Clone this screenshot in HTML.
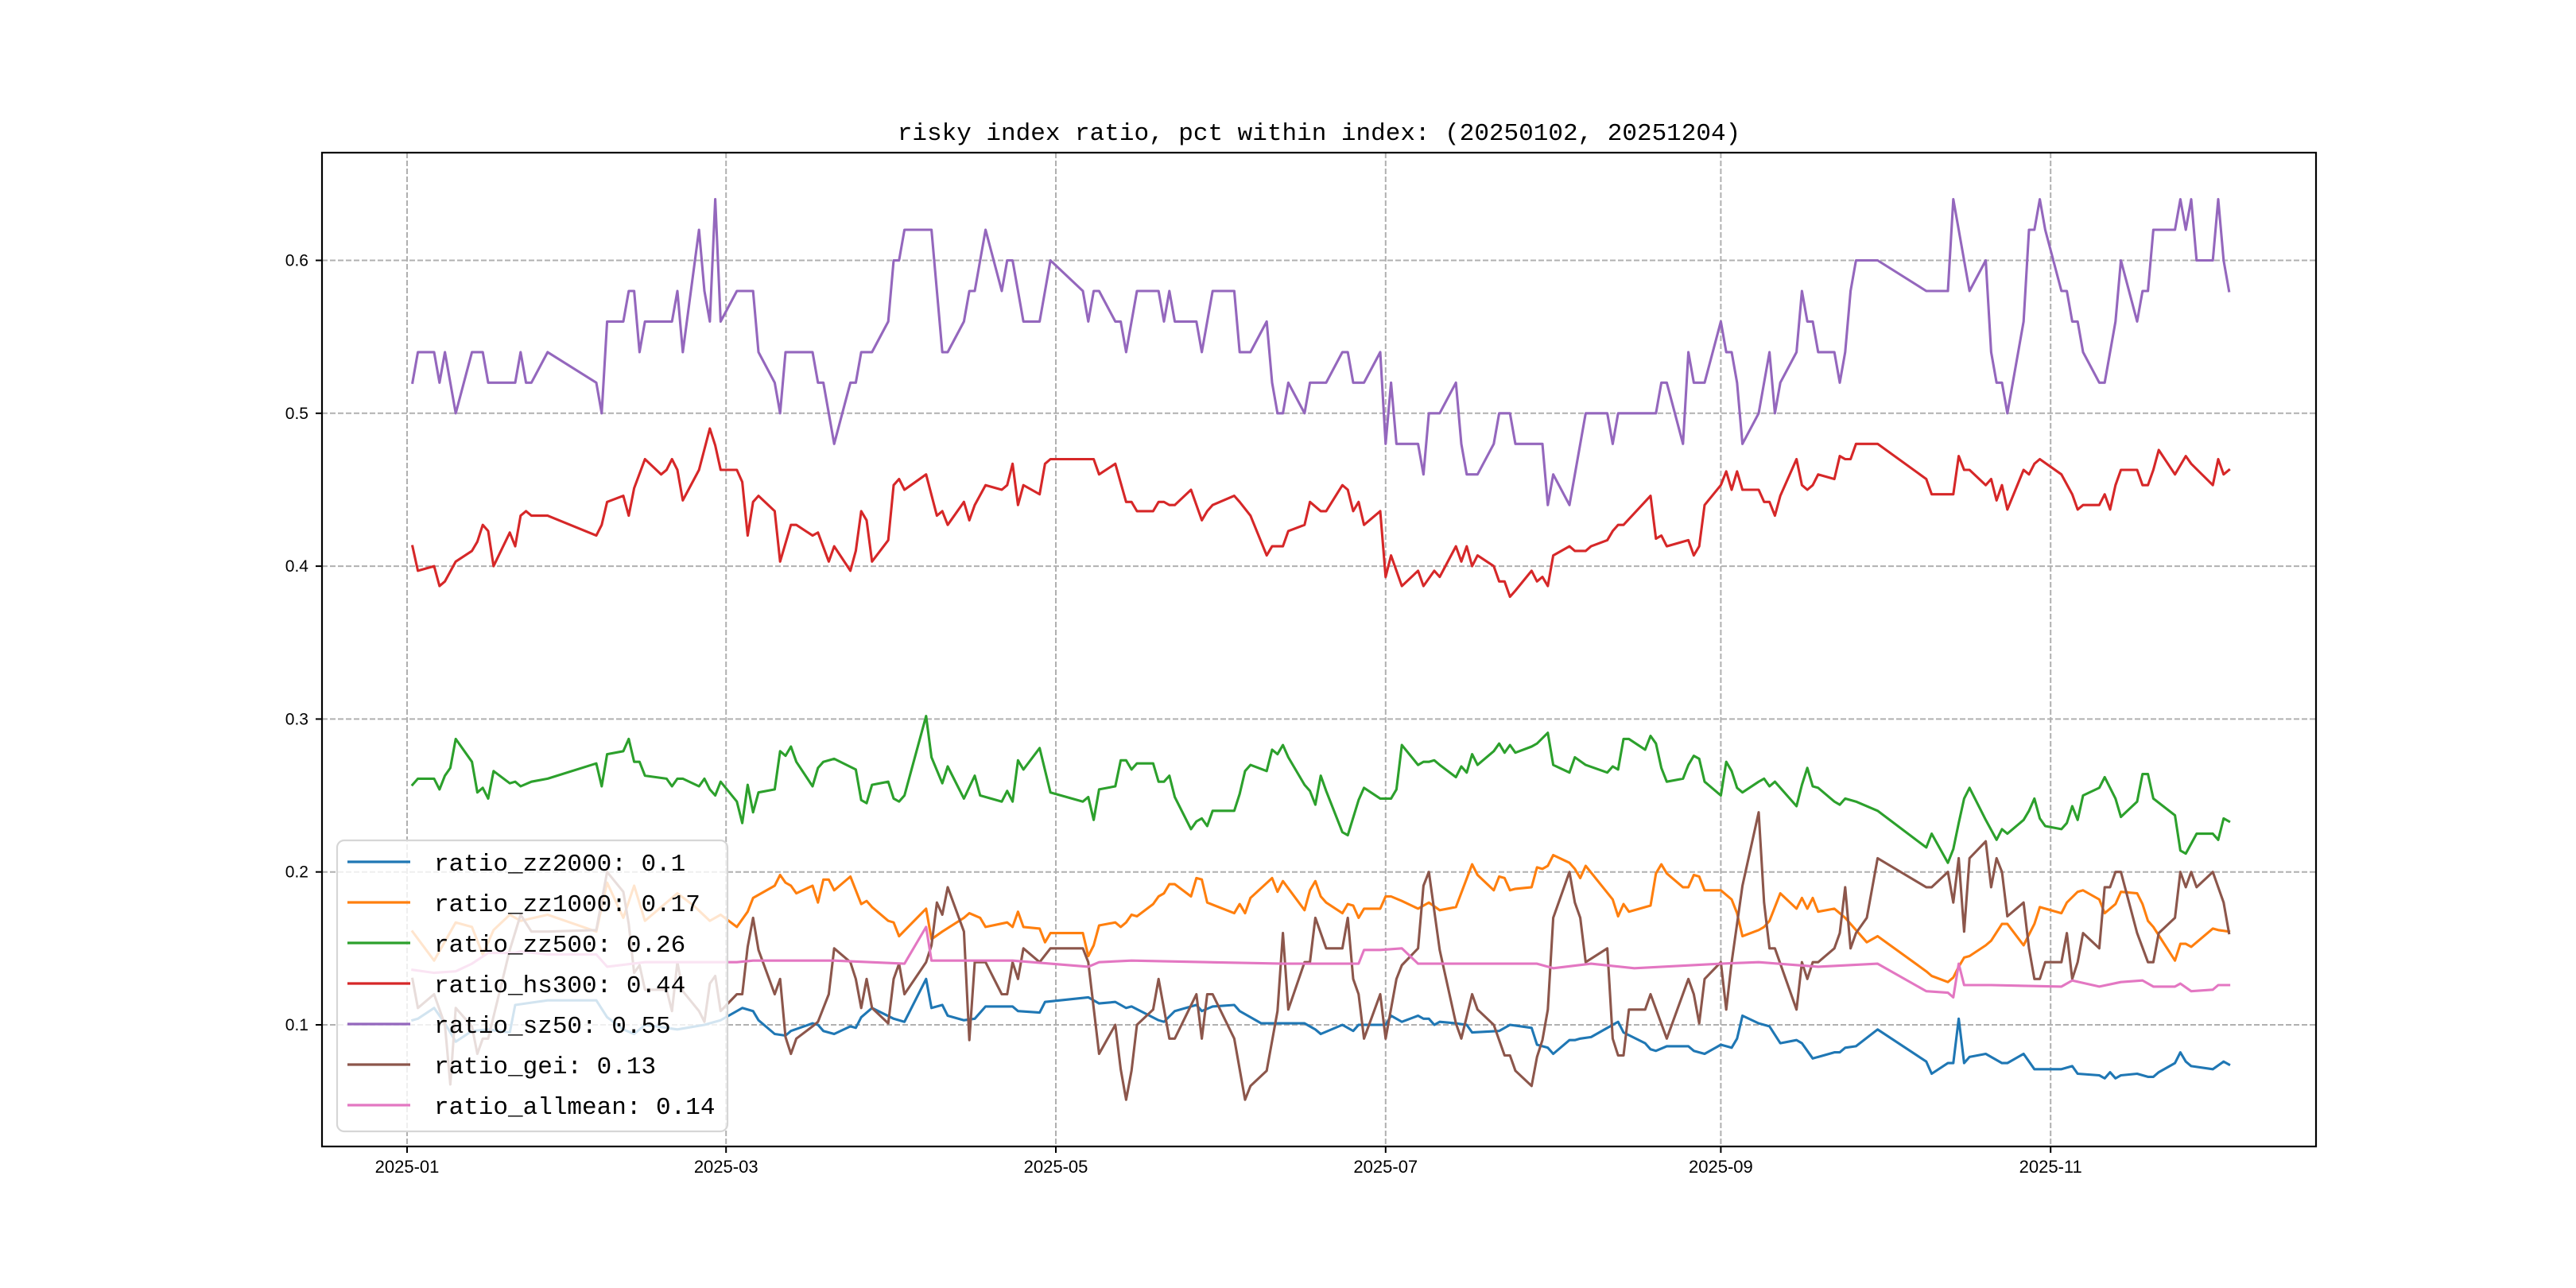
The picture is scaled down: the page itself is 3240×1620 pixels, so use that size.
<!DOCTYPE html>
<html><head><meta charset="utf-8"><title>risky index ratio</title>
<style>
html,body{margin:0;padding:0;background:#fff;}
svg{display:block;}
</style></head>
<body>
<svg id="chart" xmlns="http://www.w3.org/2000/svg" width="3240" height="1620" viewBox="0 0 3240 1620"></svg>
<script>
// ---- data: days since 2025-01-01 per series, and values ----
const zz2000Days=[1,2,5,7,9,12,15,19,20,26,35,37,40,42,44,50,55,58,61,62,64,65,68,70,71,75,76,77,79,82,83,84,86,90,92,96,97,99,100,103,105,107,112,113,117,118,126,128,131,133,134,139,140,142,146,147,149,153,154,158,162,166,168,169,173,175,176,181,182,184,187,188,189,190,191,194,196,197,202,204,208,209,211,212,215,216,217,219,224,225,229,230,231,233,237,238,240,243,245,246,247,250,252,254,257,258,260,264,265,266,268,272,281,282,285,286,287,288,289,292,295,296,299,301,306,308,309,313,314,315,316,317,320,322,323,324,327,328,329,330,334,336,337];
const zz2000Vals=[.103,.104,.111,.101,.089,.096,.097,.095,.113,.116,.116,.105,.097,.094,.100,.097,.100,.103,.109,.111,.109,.103,.094,.093,.096,.101,.100,.096,.094,.099,.098,.105,.111,.104,.102,.130,.111,.113,.106,.103,.104,.112,.112,.109,.108,.115,.118,.114,.115,.111,.112,.103,.102,.109,.113,.109,.112,.113,.109,.101,.101,.101,.097,.094,.100,.096,.100,.100,.106,.102,.106,.104,.104,.100,.102,.101,.100,.095,.096,.100,.098,.087,.085,.081,.090,.090,.091,.092,.102,.095,.088,.084,.083,.086,.086,.083,.081,.087,.085,.091,.106,.101,.099,.088,.090,.088,.078,.082,.082,.085,.086,.097,.076,.068,.075,.075,.104,.075,.079,.081,.075,.075,.081,.071,.071,.073,.068,.067,.065,.069,.065,.067,.068,.066,.066,.069,.075,.082,.076,.073,.071,.076,.074];

const zz1000Days=[1,5,9,12,14,16,19,21,26,35,37,40,42,44,50,53,56,58,61,63,64,68,69,70,71,72,75,76,77,78,79,82,84,85,86,89,90,91,96,97,99,103,104,106,107,111,112,113,114,117,118,119,125,126,127,128,131,132,133,134,135,138,139,140,141,142,145,146,147,148,153,154,155,156,160,161,162,166,167,168,169,170,173,174,175,176,177,180,181,182,184,187,189,191,194,197,198,201,202,203,204,205,208,209,210,211,212,215,216,217,218,223,224,225,226,230,231,232,233,236,237,238,239,240,243,245,246,247,250,251,252,254,257,258,259,260,261,264,266,270,272,281,282,285,286,287,288,289,292,293,295,296,299,301,302,306,307,309,310,313,314,316,317,320,321,322,323,327,328,329,330,334,335,337];
const zz1000Vals=[.161,.142,.167,.164,.146,.162,.172,.168,.172,.161,.193,.170,.191,.168,.186,.178,.168,.172,.164,.174,.183,.191,.198,.193,.191,.186,.191,.180,.195,.195,.188,.197,.179,.181,.177,.168,.167,.158,.176,.156,.161,.170,.173,.170,.164,.167,.164,.174,.164,.163,.154,.160,.160,.145,.152,.165,.167,.164,.167,.172,.171,.179,.184,.186,.192,.192,.184,.196,.195,.180,.173,.179,.173,.183,.196,.187,.194,.175,.188,.194,.184,.180,.173,.179,.178,.170,.176,.176,.184,.184,.181,.176,.180,.175,.177,.205,.198,.188,.197,.196,.188,.189,.190,.203,.202,.204,.211,.206,.202,.196,.204,.182,.171,.179,.174,.178,.199,.205,.199,.190,.190,.198,.197,.188,.188,.182,.173,.158,.162,.164,.168,.186,.176,.183,.176,.183,.174,.176,.170,.154,.158,.135,.132,.128,.131,.138,.144,.145,.152,.155,.166,.166,.152,.166,.177,.173,.180,.187,.188,.182,.173,.179,.187,.186,.179,.168,.164,.142,.153,.153,.151,.163,.162,.161];

const zz500Days=[1,2,5,6,7,8,9,12,13,14,15,16,19,20,21,23,26,35,36,37,40,41,42,43,44,48,49,50,51,54,55,56,57,58,61,62,63,64,65,68,69,70,71,72,75,76,77,79,83,84,85,86,89,90,91,92,96,97,99,100,103,105,106,110,111,112,113,114,117,119,125,126,127,128,131,132,133,134,135,138,139,140,141,142,145,146,147,148,149,153,154,155,156,159,160,161,162,163,166,167,168,169,170,173,174,176,177,180,182,183,184,187,188,189,190,191,194,195,196,197,198,201,202,203,204,205,208,209,211,212,215,216,218,222,223,224,225,226,229,230,231,232,233,236,237,238,239,240,243,244,245,246,247,250,251,252,253,257,258,259,260,261,264,265,266,268,272,281,282,285,286,287,288,289,292,294,295,296,299,300,301,302,303,306,307,308,309,310,313,314,315,316,317,320,321,322,323,327,328,329,331,334,335,336,337];
const zz500Vals=[.257,.261,.261,.254,.263,.268,.287,.272,.252,.255,.248,.266,.258,.259,.256,.259,.261,.271,.256,.277,.279,.287,.272,.272,.263,.261,.256,.261,.261,.256,.261,.254,.250,.259,.246,.232,.257,.239,.252,.254,.279,.276,.282,.272,.256,.268,.272,.274,.267,.247,.245,.257,.259,.248,.246,.250,.302,.275,.258,.269,.248,.263,.250,.246,.253,.246,.273,.267,.281,.252,.246,.249,.234,.254,.256,.273,.273,.267,.271,.271,.259,.259,.263,.249,.228,.233,.235,.230,.240,.240,.251,.266,.270,.266,.280,.277,.283,.275,.257,.253,.244,.263,.253,.226,.224,.247,.255,.248,.248,.254,.283,.270,.272,.272,.273,.270,.262,.269,.265,.277,.270,.279,.284,.278,.283,.278,.282,.284,.291,.270,.265,.275,.270,.265,.269,.267,.287,.287,.280,.289,.284,.268,.259,.261,.270,.276,.274,.259,.250,.272,.266,.255,.252,.259,.261,.256,.259,.243,.257,.268,.256,.255,.246,.244,.248,.246,.240,.216,.225,.206,.215,.232,.248,.255,.234,.221,.228,.225,.234,.240,.248,.235,.230,.228,.232,.243,.234,.250,.255,.262,.255,.248,.236,.246,.264,.264,.248,.237,.214,.212,.225,.225,.221,.235,.233];

const hs300Days=[1,2,5,6,7,9,12,13,14,15,16,19,20,21,22,23,26,35,36,37,40,41,42,44,47,48,49,50,51,54,56,57,58,61,62,63,64,65,68,69,71,72,75,76,78,79,82,83,84,85,86,89,90,91,92,96,98,99,100,103,104,105,107,110,111,112,113,114,117,118,119,127,128,131,133,134,135,138,139,140,141,142,145,147,148,149,153,154,156,159,160,162,163,166,167,169,170,173,174,175,176,177,180,181,182,184,187,188,190,191,194,195,196,197,198,201,202,203,204,205,208,209,210,211,212,215,216,218,219,222,223,224,225,230,231,232,233,237,238,239,240,243,244,245,246,247,250,251,252,253,254,257,258,259,260,261,264,265,266,267,268,272,281,282,286,287,288,289,292,293,294,295,296,299,300,301,302,306,308,309,310,313,314,315,316,317,320,321,322,323,324,327,329,330,334,335,336,337];
const hs300Vals=[.413,.397,.400,.387,.390,.403,.410,.416,.427,.423,.400,.422,.413,.433,.436,.433,.433,.420,.427,.442,.446,.433,.451,.470,.460,.463,.470,.463,.443,.463,.490,.479,.463,.463,.455,.420,.442,.446,.436,.403,.427,.427,.420,.422,.403,.413,.397,.410,.436,.430,.403,.417,.453,.457,.450,.460,.433,.436,.427,.442,.430,.440,.453,.450,.453,.467,.440,.453,.447,.467,.470,.470,.460,.467,.442,.442,.436,.436,.442,.442,.440,.440,.450,.430,.436,.440,.446,.442,.433,.407,.413,.413,.423,.427,.442,.436,.436,.453,.450,.436,.442,.427,.436,.393,.407,.387,.397,.387,.397,.393,.413,.403,.413,.400,.407,.400,.390,.390,.380,.384,.397,.390,.393,.387,.407,.413,.410,.410,.413,.417,.423,.427,.427,.446,.418,.420,.413,.417,.407,.413,.440,.453,.462,.450,.462,.450,.450,.442,.442,.433,.446,.470,.453,.450,.453,.460,.457,.472,.470,.470,.480,.480,.457,.447,.447,.472,.463,.463,.453,.457,.443,.453,.437,.463,.460,.467,.470,.460,.447,.437,.440,.440,.447,.437,.453,.463,.463,.453,.453,.463,.476,.460,.472,.467,.453,.470,.460,.463];

const sz50Days=[1,2,5,6,7,9,12,14,15,20,21,22,23,26,35,36,37,40,41,42,43,44,49,50,51,54,55,56,57,58,61,64,65,68,69,70,75,76,77,79,82,83,84,86,89,90,91,92,97,99,100,103,104,105,107,110,111,112,114,117,119,125,126,127,128,131,132,133,135,139,140,141,142,146,147,149,153,154,156,159,160,161,162,163,166,167,170,173,174,175,177,180,181,182,183,187,188,189,191,194,195,196,198,201,202,204,205,210,211,212,215,218,222,223,224,231,232,233,236,237,238,240,243,244,245,246,247,250,252,253,254,257,258,259,260,261,264,265,266,267,268,272,281,285,286,289,292,293,294,295,296,299,300,301,302,303,306,307,308,309,310,313,314,316,317,320,321,322,323,327,328,329,330,331,334,335,336,337];
const sz50Vals=[.52,.54,.54,.52,.54,.50,.54,.54,.52,.52,.54,.52,.52,.54,.52,.50,.56,.56,.58,.58,.54,.56,.56,.58,.54,.62,.58,.56,.64,.56,.58,.58,.54,.52,.50,.54,.54,.52,.52,.48,.52,.52,.54,.54,.56,.60,.60,.62,.62,.54,.54,.56,.58,.58,.62,.58,.60,.60,.56,.56,.60,.58,.56,.58,.58,.56,.56,.54,.58,.58,.56,.58,.56,.56,.54,.58,.58,.54,.54,.56,.52,.50,.50,.52,.50,.52,.52,.54,.54,.52,.52,.54,.48,.52,.48,.48,.46,.50,.50,.52,.48,.46,.46,.48,.50,.50,.48,.48,.44,.46,.44,.50,.50,.48,.50,.50,.52,.52,.48,.54,.52,.52,.56,.54,.54,.52,.48,.50,.54,.50,.52,.54,.58,.56,.56,.54,.54,.52,.54,.58,.60,.60,.58,.58,.64,.58,.60,.54,.52,.52,.50,.56,.62,.62,.64,.62,.58,.58,.56,.56,.54,.52,.52,.56,.60,.56,.58,.58,.62,.62,.64,.62,.64,.60,.60,.64,.60,.58];

const geiDays=[1,2,5,7,8,9,12,13,14,15,19,21,23,26,35,37,40,41,42,43,44,48,49,50,51,54,55,56,57,58,61,62,63,64,65,68,69,70,71,72,75,76,78,79,82,83,84,85,86,89,90,91,92,96,97,98,99,100,103,104,105,107,110,111,112,113,114,117,119,125,126,128,131,132,133,134,135,138,139,141,142,146,147,148,149,153,155,156,159,161,162,163,166,167,168,170,173,174,175,176,177,180,181,183,184,187,188,189,191,194,195,197,198,201,203,204,205,208,209,210,211,212,215,216,217,218,222,223,224,225,226,229,230,233,237,238,239,240,243,244,245,247,250,251,252,253,257,258,259,260,261,264,265,266,267,268,270,272,281,282,285,286,287,288,289,292,293,294,295,296,299,300,301,302,303,306,307,308,309,310,313,314,315,316,317,320,322,323,324,327,328,329,330,331,334,336,337];
const geiVals=[.130,.111,.120,.100,.061,.111,.099,.081,.091,.091,.149,.172,.161,.161,.162,.200,.187,.166,.134,.139,.123,.123,.109,.141,.122,.109,.102,.127,.132,.109,.120,.120,.151,.170,.149,.120,.130,.092,.081,.091,.099,.102,.120,.150,.141,.130,.111,.130,.111,.101,.130,.140,.120,.141,.152,.180,.172,.190,.161,.090,.141,.141,.120,.120,.141,.130,.150,.141,.150,.150,.141,.081,.100,.071,.051,.070,.100,.110,.130,.091,.091,.120,.091,.120,.120,.091,.051,.060,.070,.109,.160,.110,.141,.141,.170,.150,.150,.170,.130,.120,.091,.120,.091,.130,.139,.150,.191,.200,.149,.101,.091,.120,.110,.100,.080,.080,.070,.060,.079,.090,.110,.170,.200,.180,.170,.141,.150,.091,.080,.080,.110,.110,.120,.091,.130,.120,.101,.130,.141,.110,.141,.191,.239,.180,.150,.150,.110,.141,.130,.141,.141,.150,.160,.190,.150,.160,.170,.209,.190,.190,.200,.180,.209,.161,.209,.220,.190,.209,.200,.171,.180,.150,.130,.130,.141,.141,.160,.130,.141,.160,.150,.190,.190,.200,.200,.160,.141,.141,.160,.170,.200,.190,.200,.190,.200,.180,.160];

const allmeanDays=[1,5,9,12,15,20,21,26,35,37,44,58,61,64,79,92,96,97,112,119,126,128,134,162,170,176,177,180,184,187,209,212,219,227,243,250,261,272,281,285,286,287,288,293,306,308,313,317,321,323,327,328,330,334,335,337];
const allmeanVals=[.136,.134,.135,.140,.147,.147,.148,.146,.146,.138,.141,.141,.141,.142,.142,.140,.164,.142,.142,.140,.138,.141,.142,.140,.140,.140,.149,.149,.150,.140,.140,.137,.140,.137,.140,.141,.138,.140,.122,.121,.118,.140,.126,.126,.125,.129,.125,.128,.129,.125,.125,.127,.122,.123,.126,.126];

const seriesNames=['ratio_zz2000','ratio_zz1000','ratio_zz500','ratio_hs300','ratio_sz50','ratio_gei','ratio_allmean'];
const legendValues=['0.1','0.17','0.26','0.44','0.55','0.13','0.14'];
const yTicks=[0.1,0.2,0.3,0.4,0.5,0.6];
const xTickDays=[0,59,120,181,243,304];
const xTickLabels=['2025-01','2025-03','2025-05','2025-07','2025-09','2025-11'];

// ---- layout ----
const NS='http://www.w3.org/2000/svg';
const svg=document.getElementById('chart');
const L=405,R=2913,T=192,B=1442;
function xScale(d){return 512+d*6.8;}
function yScale(v){return 1289-(v-0.1)*1923;}
function mk(tag,attrs,parent){const e=document.createElementNS(NS,tag);for(const k in attrs)e.setAttribute(k,attrs[k]);(parent||svg).appendChild(e);return e;}

// title
const title=mk('text',{x:(L+R)/2,y:176,'text-anchor':'middle','font-family':'"Liberation Mono", monospace','font-size':31,fill:'#000'});
title.textContent='risky index ratio, pct within index: (20250102, 20251204)';



// grid
const grid=mk('g',{});


yTicks.forEach(function(v){
  const g=mk('line',{x1:L,x2:R,y1:yScale(v),y2:yScale(v),stroke:'#b0b0b0','stroke-width':2,'stroke-dasharray':'7,3'},grid);
  
  
});
xTickDays.forEach(function(d){
  const g=mk('line',{x1:xScale(d),x2:xScale(d),y1:T,y2:B,stroke:'#b0b0b0','stroke-width':2,'stroke-dasharray':'7,3'},grid);
  
  
});

// series
const colors=['#1f77b4','#ff7f0e','#2ca02c','#d62728','#9467bd','#8c564b','#e377c2'];
const daysArr=[zz2000Days,zz1000Days,zz500Days,hs300Days,sz50Days,geiDays,allmeanDays];
const valsArr=[zz2000Vals,zz1000Vals,zz500Vals,hs300Vals,sz50Vals,geiVals,allmeanVals];
const lineNames=['line-zz2000','line-zz1000','line-zz500','line-hs300','line-sz50','line-gei','line-allmean'];
for(let s=0;s<7;s++){
  const ds=daysArr[s],vs=valsArr[s];
  const n=Math.min(ds.length,vs.length);
  let p='';
  for(let i=0;i<n;i++){p+=(i?'L':'M')+xScale(ds[i]).toFixed(1)+','+yScale(vs[i]).toFixed(1);}
  const path=mk('path',{d:p,fill:'none',stroke:colors[s],'stroke-width':3.1,'stroke-linejoin':'round','stroke-linecap':'square'});
  
  
}

// axes frame
const frame=mk('rect',{x:L,y:T,width:R-L,height:B-T,fill:'none',stroke:'#000','stroke-width':2.2});



// y ticks
yTicks.forEach(function(v){
  const t=mk('line',{x1:L-8,x2:L,y1:yScale(v),y2:yScale(v),stroke:'#000','stroke-width':2});
  
  
  const lb=mk('text',{x:L-17,y:yScale(v)+7,'text-anchor':'end','font-family':'"Liberation Sans", sans-serif','font-size':21,fill:'#000'});
  lb.textContent=v.toFixed(1);
  
  
});
// x ticks
xTickDays.forEach(function(d,i){
  const t=mk('line',{x1:xScale(d),x2:xScale(d),y1:B,y2:B+8,stroke:'#000','stroke-width':2});
  
  
  const lb=mk('text',{x:xScale(d),y:1475,'text-anchor':'middle','font-family':'"Liberation Sans", sans-serif','font-size':22,fill:'#000'});
  lb.textContent=xTickLabels[i];
  
  
});

// legend
const lg=mk('g',{});


const lbox=mk('rect',{x:424,y:1057,width:491,height:366,rx:9,fill:'rgba(255,255,255,0.8)',stroke:'#d6d6d6','stroke-width':2.2},lg);


for(let s=0;s<7;s++){
  const cy=1084+s*51;
  const h=mk('line',{x1:437,x2:516,y1:cy,y2:cy,stroke:colors[s],'stroke-width':3.2},lg);
  
  
  const tx=mk('text',{x:546,y:cy+11,'font-family':'"Liberation Mono", monospace','font-size':31,fill:'#000'},lg);
  tx.textContent=seriesNames[s]+': '+legendValues[s];
  
  
}
</script>
</body></html>
